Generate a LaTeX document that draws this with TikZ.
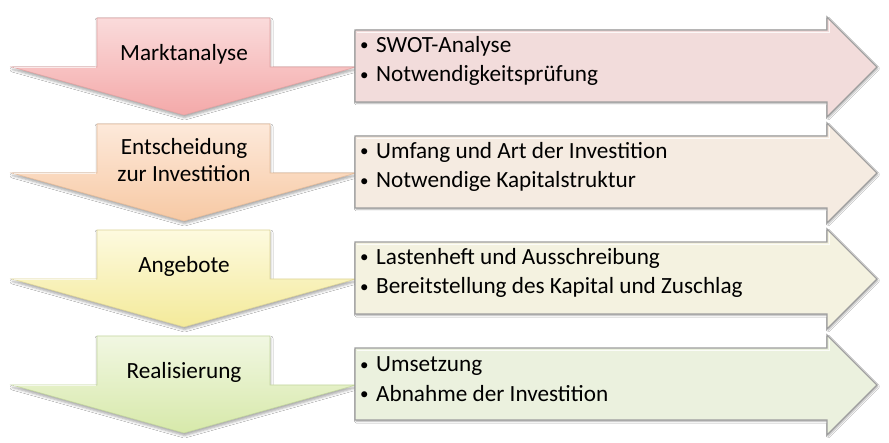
\documentclass[tikz,border=0pt]{standalone}
\usepackage{fontspec}
\setmainfont{Carlito}
\usetikzlibrary{shadows.blur}

% stage colours: light top, saturated bottom, outline, panel fill
\definecolor{redTop}{HTML}{FADBDB}
\definecolor{redBot}{HTML}{F4A9A9}
\definecolor{redLine}{HTML}{E3A4A4}
\definecolor{redPanel}{HTML}{F2DCDB}
\definecolor{orTop}{HTML}{FDE9DA}
\definecolor{orBot}{HTML}{F7C9A4}
\definecolor{orLine}{HTML}{E6BD9C}
\definecolor{orPanel}{HTML}{F5EBE1}
\definecolor{yeTop}{HTML}{FDFADF}
\definecolor{yeBot}{HTML}{F4EA9A}
\definecolor{yeLine}{HTML}{DCD49A}
\definecolor{yePanel}{HTML}{F4F2E0}
\definecolor{grTop}{HTML}{F1F7E2}
\definecolor{grBot}{HTML}{D7E9AA}
\definecolor{grLine}{HTML}{C4D6A0}
\definecolor{grPanel}{HTML}{EBF1DE}

\tikzset{
  stagelabel/.style={font=\fontsize{23.2}{27}\selectfont, align=center, inner sep=0pt},
  itemlist/.style={font=\fontsize{23.2}{29.5}\selectfont, align=left, anchor=west, inner sep=0pt},
  downshadow/.style={blur shadow={shadow xshift=0.5pt, shadow yshift=-2.5pt,
      shadow blur radius=2.5pt, shadow opacity=35}},
  panelshadow/.style={blur shadow={shadow xshift=1pt, shadow yshift=-1.5pt,
      shadow blur radius=1.5pt, shadow opacity=30}},
}

% small bullet with hanging indent
\newcommand{\bul}{\makebox[17pt][l]{\hspace{1pt}\raisebox{1.6pt}{\fontsize{17}{17}\selectfont •}}}

% one phase: #1 index, #2/#3 chevron shading, #4 chevron outline,
% #5 panel fill, #6 phase name, #7/#8 the two items
\newcommand{\phaserow}[8]{%
  \begin{scope}[yshift=-#1*106pt]
    % downward chevron
    \path[downshadow, draw=#4, line width=0.6pt, top color=#2, bottom color=#3]
      (97,18) -- (270,18) -- (270,67) -- (356,67) -- (184,115)
      -- (12,67) -- (97,67) -- cycle;
    \draw[white, opacity=0.7, line width=1pt] (14,68) -- (96,68);
    % right-pointing panel
    \path[panelshadow, fill=#5, draw=black!38, line width=1.3pt, line join=miter]
      (355,30) -- (827,30) -- (827,17) -- (877,67) -- (827,117)
      -- (827,102) -- (355,102) -- cycle;
    \draw[white, opacity=0.8, line width=0.8pt]
      (357,32) -- (829,32) -- (829,21.5);
    \node[stagelabel] (phase#1) at (184,54.5) {#6};
    \node[itemlist] (items#1) at (359,61) {\bul#7\\\bul#8};
  \end{scope}%
}

\begin{document}
\begin{tikzpicture}[x=1pt,y=-1pt]
  \useasboundingbox (0,0) rectangle (889,443);
  \fill[white] (0,0) rectangle (889,443);
  \phaserow{0}{redTop}{redBot}{redLine}{redPanel}{Marktanalyse}
    {SWOT-Analyse}{Notwendigkeitsprüfung}
  \phaserow{1}{orTop}{orBot}{orLine}{orPanel}{Entscheidung\\zur Investition}
    {Umfang und Art der Investition}{Notwendige Kapitalstruktur}
  \phaserow{2}{yeTop}{yeBot}{yeLine}{yePanel}{Angebote}
    {Lastenheft und Ausschreibung}{Bereitstellung des Kapital und Zuschlag}
  \phaserow{3}{grTop}{grBot}{grLine}{grPanel}{Realisierung}
    {Umsetzung}{Abnahme der Investition}
\end{tikzpicture}
\end{document}
